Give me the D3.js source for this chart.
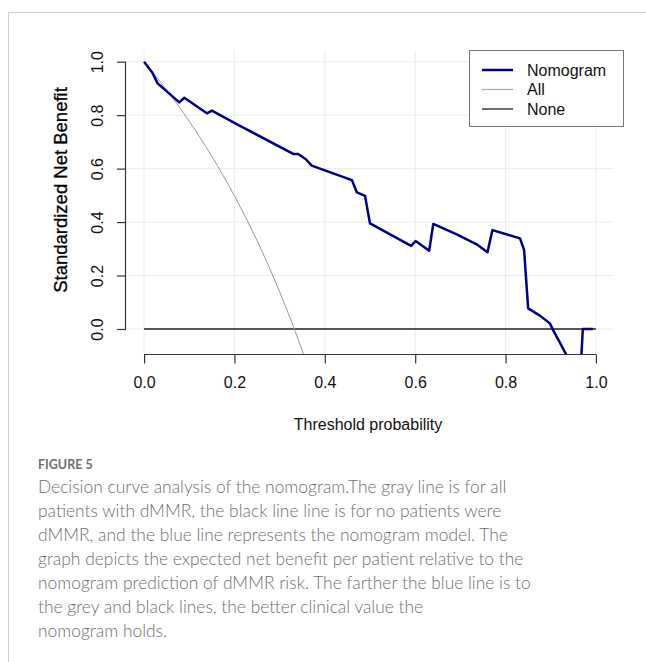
<!DOCTYPE html>
<html>
<head>
<meta charset="utf-8">
<script src="https://cdn.jsdelivr.net/npm/d3@7"></script>
<style>
  body { margin: 0; background: #fff; }
  svg text { font-family: "Liberation Sans", Arial, sans-serif; }
  .caption { font-family: Lato, "Open Sans", sans-serif; fill: #6f6f6f; }
</style>
</head>
<body>
<div id="chart"></div>
<script>
// threshold probabilities and standardized net benefit
const nomoX = [0, 0.018, 0.030, 0.078, 0.089, 0.139, 0.150, 0.209, 0.330, 0.341, 0.358, 0.371,
  0.460, 0.471, 0.489, 0.500, 0.591, 0.601, 0.631, 0.640, 0.692, 0.736, 0.760, 0.771,
  0.832, 0.841, 0.850, 0.876, 0.898, 0.907, 0.917, 0.934, 0.945, 0.962, 0.968, 0.971, 0.993];
const nomoY = [1.0, 0.960, 0.919, 0.848, 0.865, 0.807, 0.817, 0.763, 0.655, 0.655, 0.635, 0.611,
  0.557, 0.511, 0.498, 0.395, 0.311, 0.329, 0.293, 0.393, 0.354, 0.317, 0.287, 0.370,
  0.339, 0.296, 0.077, 0.050, 0.021, -0.010, -0.041, -0.095, -0.14, -0.14, -0.095, 0.0, 0.0];

const allX = [0, 0.05, 0.10, 0.15, 0.20, 0.25, 0.30, 0.35, 0.36];
const allY = [1.0, 0.894, 0.777, 0.646, 0.498, 0.331, 0.139, -0.081, -0.13];

const noneX = [0, 1];
const noneY = [0, 0];

const xTicks = [0, 0.2, 0.4, 0.6, 0.8, 1.0];
const yTicks = [0, 0.2, 0.4, 0.6, 0.8, 1.0];

const legendNames = ["Nomogram", "All", "None"];
const legendColors = ["#00008B", "#aaaaaa", "#222222"];
const legendWidths = [2.5, 1.2, 1.3];

const captionTitle = "FIGURE 5";
const captionLines = [
  "Decision curve analysis of the nomogram.The gray line is for all",
  "patients with dMMR, the black line line is for no patients were",
  "dMMR, and the blue line represents the nomogram model. The",
  "graph depicts the expected net benefit per patient relative to the",
  "nomogram prediction of dMMR risk. The farther the blue line is to",
  "the grey and black lines, the better clinical value the",
  "nomogram holds."
];

const W = 646, H = 662;
const plot = {left: 126, right: 614, top: 50.5, bottom: 354};

const svg = d3.select("#chart").append("svg")
  .attr("width", W).attr("height", H);

// card frame
svg.append("path")
  .attr("d", "M8.5," + H + " V12.5 H" + W)
  .attr("fill", "none").attr("stroke", "#cfcfcf").attr("stroke-width", 1);

const x = d3.scaleLinear().domain([-0.04, 1.04]).range([plot.left, plot.right]);
const y = d3.scaleLinear().domain([0, 1]).range([329, 61.7]);

// grid
svg.append("g").selectAll("line").data(xTicks).enter().append("line")
  .attr("x1", d => x(d)).attr("x2", d => x(d))
  .attr("y1", plot.top).attr("y2", plot.bottom)
  .attr("stroke", "#ececec").attr("stroke-width", 1);
svg.append("g").selectAll("line").data(yTicks).enter().append("line")
  .attr("x1", plot.left).attr("x2", plot.right)
  .attr("y1", d => y(d)).attr("y2", d => y(d))
  .attr("stroke", "#ececec").attr("stroke-width", 1);

svg.append("clipPath").attr("id", "clip").append("rect")
  .attr("x", plot.left).attr("y", plot.top)
  .attr("width", plot.right - plot.left).attr("height", plot.bottom - plot.top);

const g = svg.append("g").attr("clip-path", "url(#clip)");

const line = d3.line().x(d => x(d[0])).y(d => y(d[1]));

g.append("path")
  .datum(d3.zip(noneX, noneY))
  .attr("d", line)
  .attr("fill", "none").attr("stroke", legendColors[2]).attr("stroke-width", legendWidths[2]);

g.append("path")
  .datum(d3.zip(allX, allY))
  .attr("d", line.curve(d3.curveMonotoneX))
  .attr("fill", "none").attr("stroke", "#999999").attr("stroke-width", 1);

line.curve(d3.curveLinear);
g.append("path")
  .datum(d3.zip(nomoX, nomoY))
  .attr("d", line)
  .attr("fill", "none").attr("stroke", legendColors[0]).attr("stroke-width", legendWidths[0])
  .attr("stroke-linejoin", "round");

// axes
const xAxis = svg.append("g")
  .attr("transform", "translate(0," + plot.bottom + ")")
  .call(d3.axisBottom(x).tickValues(xTicks).tickFormat(d3.format(".1f")).tickSizeInner(9).tickSizeOuter(0).tickPadding(14));
const yAxis = svg.append("g")
  .attr("transform", "translate(" + plot.left + ",0)")
  .call(d3.axisLeft(y).tickValues(yTicks).tickFormat(d3.format(".1f")).tickSizeInner(9).tickSizeOuter(0));

[xAxis, yAxis].forEach(a => {
  a.select(".domain").attr("stroke", "#333").attr("stroke-width", 1.2);
  a.selectAll(".tick line").attr("stroke", "#333").attr("stroke-width", 1.2);
  a.selectAll("text").attr("font-size", 16).attr("fill", "#111")
    .attr("font-family", "Liberation Sans, Arial, sans-serif");
});
// the domain paths only span the ticks
xAxis.select(".domain").attr("d", "M" + x(0) + ",0.5H" + x(1));
yAxis.select(".domain").attr("d", "M-0.5," + y(0) + "V" + y(1));
xAxis.selectAll(".tick line").attr("transform", "translate(0,0.5)");

// rotated y tick labels
yAxis.selectAll(".tick text")
  .attr("x", null).attr("dy", "0.36em")
  .attr("text-anchor", "middle")
  .attr("transform", "translate(-29,0) rotate(-90)");

svg.append("text")
  .attr("x", (plot.left + plot.right) / 2 - 2).attr("y", 430)
  .attr("text-anchor", "middle").attr("font-size", 16).attr("fill", "#111")
  .text("Threshold probability");

svg.append("text")
  .attr("transform", "translate(60,190) rotate(-90)")
  .attr("dy", "0.36em")
  .attr("text-anchor", "middle").attr("font-size", 18.5).attr("fill", "#000")
  .attr("stroke", "#000").attr("stroke-width", 0.3)
  .text("Standardized Net Benefit");

// legend
const leg = svg.append("g");
leg.append("rect")
  .attr("x", 469.5).attr("y", 50.5).attr("width", 154).attr("height", 76)
  .attr("fill", "#fff").attr("stroke", "#777").attr("stroke-width", 1);
const rows = leg.selectAll("g.row").data(legendNames).enter().append("g")
  .attr("transform", (d, i) => "translate(0," + (70 + i * 19.5) + ")");
rows.append("line")
  .attr("x1", 482).attr("x2", 513).attr("y1", 0).attr("y2", 0)
  .attr("stroke", (d, i) => legendColors[i])
  .attr("stroke-width", (d, i) => legendWidths[i]);
rows.append("text")
  .attr("x", 527).attr("dy", "0.36em")
  .attr("font-size", 16).attr("fill", "#111")
  .text(d => d);

// caption
svg.append("text").attr("class", "caption")
  .attr("x", 38).attr("y", 468.7)
  .attr("font-size", 12.5).attr("font-weight", 700)
  .text(captionTitle);
svg.append("g").selectAll("text").data(captionLines).enter().append("text")
  .attr("class", "caption")
  .attr("x", 38).attr("y", (d, i) => 493.3 + i * 24)
  .attr("font-size", 17.4).attr("font-weight", 300)
  .text(d => d);
</script>
</body>
</html>
